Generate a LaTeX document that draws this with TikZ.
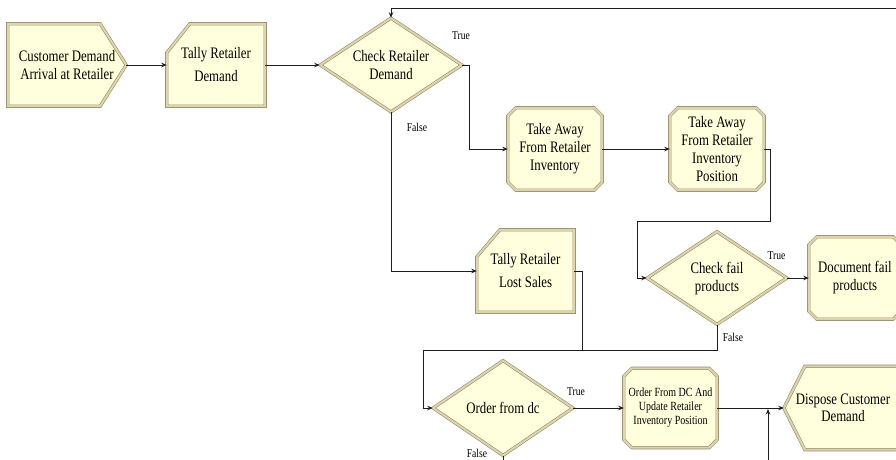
\documentclass[tikz,border=0pt]{standalone}
\usepackage{fontspec}
\setmainfont[FakeStretch=0.8]{Liberation Serif}
\usetikzlibrary{shapes.geometric,arrows.meta,calc}
\pgfdeclarelayer{background}
\pgfsetlayers{background,main}

\definecolor{cream}{RGB}{255,255,221}
\definecolor{edge}{RGB}{150,140,112}
\definecolor{band}{RGB}{222,212,172}
\definecolor{wirecol}{RGB}{30,30,30}

\newcommand\bodyfont[1]{\fontsize{16}{#1}\selectfont}

\tikzset{
  outline/.style={fill=cream, draw=edge, line width=0.6pt, double=band,
    double distance=2pt, line join=miter},
  box/.style={rectangle, inner sep=0pt, align=center, text=black, font=\bodyfont{18}},
  dia/.style={diamond, outline, inner sep=0pt},
  wire/.style={draw=wirecol, line width=0.9pt},
  flow/.style={wire, -{Stealth[length=5.5pt,width=4.5pt]}},
  tag/.style={font=\fontsize{12}{14}\selectfont, inner sep=0pt, text=black},
}

% outlines of the module blocks, drawn behind their labels
\newcommand\octagonframe[2]{\begin{pgfonlayer}{background}
  \path[outline] ([xshift=#2]#1.north west) -- ([xshift=-#2]#1.north east)
    -- ([yshift=-#2]#1.north east) -- ([yshift=#2]#1.south east)
    -- ([xshift=-#2]#1.south east) -- ([xshift=#2]#1.south west)
    -- ([yshift=#2]#1.south west) -- ([yshift=-#2]#1.north west) -- cycle;
  \end{pgfonlayer}}
\newcommand\tallyframe[3]{\begin{pgfonlayer}{background}
  \path[outline] ([yshift=-#3]#1.north west) -- ([xshift=#2]#1.north west)
    -- (#1.north east) -- (#1.south east) -- (#1.south west) -- cycle;
  \end{pgfonlayer}}
\newcommand\createframe[2]{\begin{pgfonlayer}{background}
  \path[outline] (#1.north west) -- ([xshift=-#2]#1.north east) -- (#1.east)
    -- ([xshift=-#2]#1.south east) -- (#1.south west) -- cycle;
  \end{pgfonlayer}}
\newcommand\disposeframe[2]{\begin{pgfonlayer}{background}
  \path[outline] (#1.west) -- ([xshift=#2]#1.north west) -- (#1.north east)
    -- (#1.south east) -- ([xshift=#2]#1.south west) -- cycle;
  \end{pgfonlayer}}

\begin{document}
\begin{tikzpicture}[x=1pt, y=-1pt]
\useasboundingbox (0,0) rectangle (896,459);
\begin{pgfonlayer}{background}
  \fill[white] (0,0) rectangle (896,459);
\end{pgfonlayer}

% ---- blocks ----
\node[box, minimum width=118pt, minimum height=82pt] (cust) at (67,65)
  {Customer Demand\\Arrival at Retailer};
\createframe{cust}{26pt}

\node[box, font=\bodyfont{23}, minimum width=98pt, minimum height=82pt] (tdem) at (216,65)
  {Tally Retailer\\Demand};
\tallyframe{tdem}{23pt}{29pt}

\node[dia, minimum width=142pt, minimum height=94pt] (crd) at (391,65) {};
\node[box, font=\bodyfont{17.5}] (crdtext) at (crd) {Check Retailer\\Demand};

\node[box, minimum width=94pt, minimum height=82pt] (tk1) at (555,149)
  {Take Away\\From Retailer\\Inventory};
\octagonframe{tk1}{8pt}

\node[box, minimum width=94pt, minimum height=82pt] (tk2) at (717,149)
  {Take Away\\From Retailer\\Inventory\\Position};
\octagonframe{tk2}{8pt}

\node[box, font=\bodyfont{23}, minimum width=97pt, minimum height=82pt] (tls) at (525.5,271)
  {Tally Retailer\\Lost Sales};
\tallyframe{tls}{23pt}{27pt}

\node[dia, minimum width=140pt, minimum height=93pt] (cfp) at (717,278) {};
\node[box, font=\bodyfont{18}] (cfptext) at (717,279) {Check fail\\products};

\node[box, minimum width=92pt, minimum height=82pt] (doc) at (855,278)
  {Document fail\\products};
\octagonframe{doc}{8pt}

\node[dia, minimum width=140pt, minimum height=95pt] (odc) at (503,408) {};
\node[box] (odctext) at (odc) {Order from dc};

\node[box, font=\fontsize{12.5}{14}\selectfont, minimum width=93pt, minimum height=79pt]
  (upd) at (670.5,408) {Order From DC And\\Update Retailer\\Inventory Position};
\octagonframe{upd}{8pt}

\node[box, font=\bodyfont{17}, minimum width=118pt, minimum height=83pt] (dis) at (843,408)
  {Dispose Customer\\Demand};
\disposeframe{dis}{21pt}

% ---- connectors ----
\coordinate (loopin) at (900,8);
\coordinate (j1) at (770,221);
\coordinate (j2) at (637,221);
\coordinate (j3) at (423,350);
\coordinate (j4) at (582,350);
\coordinate (bin) at (768,470);
\coordinate (j5) at (768,409);
\coordinate (bout) at (503,470);

\draw[flow] (cust.east) -- (tdem.west);
\draw[flow] (tdem.east) -- (crd.west);
\draw[flow] (loopin) -| (crd.north);
\draw[flow] (crd.east) -- ++(7,0) |- (tk1.west);
\draw[flow] (crd.south) |- (tls.west);
\draw[flow] (tk1.east) -- (tk2.west);
\draw[flow] (tk2.east) -| (j1) -- (j2) |- (cfp.west);
\draw[flow] (cfp.east) -- (doc.west);
\draw[flow] (cfp.south) |- (j3) |- (odc.west);
\draw[wire] (tls.east) -| (j4);
\draw[flow] (odc.east) -- (upd.west);
\draw[flow] (upd.east) -- (dis.west);
\draw[flow] (bin) -- (j5);
\draw[wire] (odc.south) -- (bout);

% ---- branch labels ----
\node[tag] (t1) at (461,35.5) {True};
\node[tag] (f1) at (417,127.5) {False};
\node[tag] (t2) at (776.5,255.5) {True};
\node[tag] (f2) at (733,337) {False};
\node[tag] (t3) at (576,391.5) {True};
\node[tag, anchor=south] (f3) at (477,458) {False};
\end{tikzpicture}
\end{document}
